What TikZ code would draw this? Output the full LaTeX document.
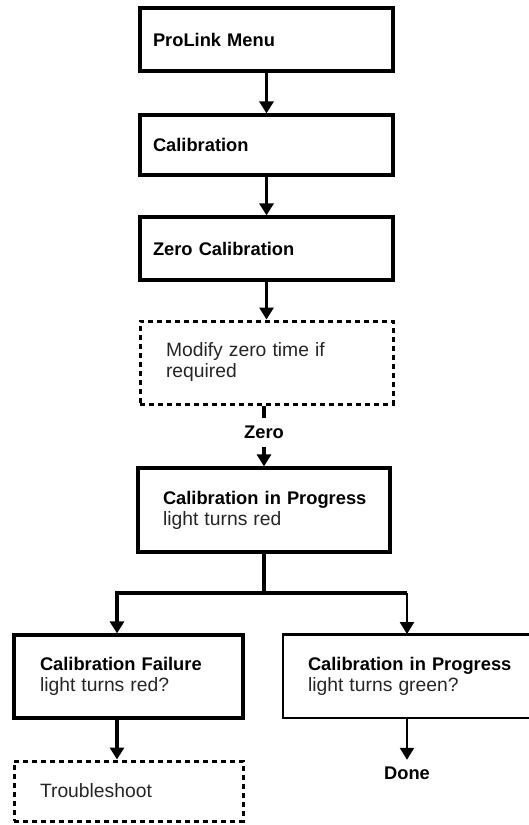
\documentclass[tikz,border=0pt]{standalone}
\usepackage{fontspec}
\setmainfont{Liberation Sans}
\usetikzlibrary{arrows.meta}
\newcommand{\bt}[1]{{\fontsize{18.3}{21}\selectfont\bfseries\mbox{#1}}}
\newcommand{\rt}[1]{{\fontsize{19.3}{21}\selectfont\color{black!85}\mbox{#1}}}
\tikzset{
  boxbase/.style={rectangle, align=left, font=\fontsize{18.3}{21}\selectfont, inner ysep=0pt},
  solidbox/.style={boxbase, draw, line width=3.2pt},
  thinbox/.style={boxbase, draw, line width=1.8pt},
  dashbox/.style={boxbase, draw, line width=3pt, dash pattern=on 5pt off 4pt},
  arr/.style={line width=3.2pt, -{Triangle[width=14pt,length=12pt]}},
  arrthin/.style={line width=2.2pt, -{Triangle[width=14pt,length=12pt]}},
  plain/.style={line width=3.2pt},
  lbl/.style={inner sep=0pt, font=\fontsize{18.3}{21}\selectfont\bfseries}
}
\begin{document}
\begin{tikzpicture}[x=1pt, y=-1pt, line join=miter]
\useasboundingbox (0,0) rectangle (529,825);
\clip (0,0) rectangle (529,825);
\fill[white] (0,0) rectangle (529,825);

\node[solidbox, minimum height=63pt, inner xsep=13pt, text width=227pt] (menu) at (266.5,39.5) {\bt{ProLink Menu}};
\node[solidbox, minimum height=60pt, inner xsep=13pt, text width=227pt] (cal) at (266.5,145) {\bt{Calibration}};
\node[solidbox, minimum height=63pt, inner xsep=13pt, text width=227pt] (zcal) at (266.5,248.5) {\bt{Zero Calibration}};
\node[dashbox, minimum height=83pt, inner xsep=26pt, text width=201pt] (mod) at (266.5,362.5) {\rt{Modify zero time if}\\\rt{required}};
\node[lbl, minimum height=29pt] (zero) at (264,432.5) {Zero};
\node[solidbox, minimum height=84pt, inner xsep=25pt, text width=202pt] (prog) at (264,510) {\bt{Calibration in Progress}\\\rt{light turns red}};
\node[solidbox, minimum height=83pt, inner xsep=26pt, text width=177pt] (fail) at (128.5,676.5) {\bt{Calibration Failure}\\\rt{light turns red?}};
\node[thinbox, minimum height=83pt, inner xsep=25pt, text width=207pt] (green) at (411.5,676.5) {\bt{Calibration in Progress}\\\rt{light turns green?}};
\draw[line width=3.2pt] (green.north west) -- (green.north east);
\node[dashbox, minimum height=60pt, inner xsep=26pt, text width=177pt] (trouble) at (128.5,791) {\rt{Troubleshoot}};
\node[lbl, minimum height=26pt] (done) at (407,773) {Done};

\coordinate (j) at (264,593);
\coordinate (lx) at (117,0);
\coordinate (rx) at (407,0);

\draw[arr] (menu) -- (cal);
\draw[arr] (cal) -- (zcal);
\draw[arr] (zcal) -- (mod);
\draw[plain] (zero.north |- mod.south) -- (zero.north);
\draw[arr] (zero.south) -- (prog.north);
\draw[plain] (prog.south) -- (j);
\draw[arr] (j) -| (lx |- fail.north);
\draw[plain] (j) -- (j -| rx);
\draw[arrthin] (j -| rx) -- (rx |- green.north);
\draw[arr] (lx |- fail.south) -- (lx |- trouble.north);
\draw[arrthin] (rx |- green.south) -- (done.north);
\end{tikzpicture}
\end{document}
